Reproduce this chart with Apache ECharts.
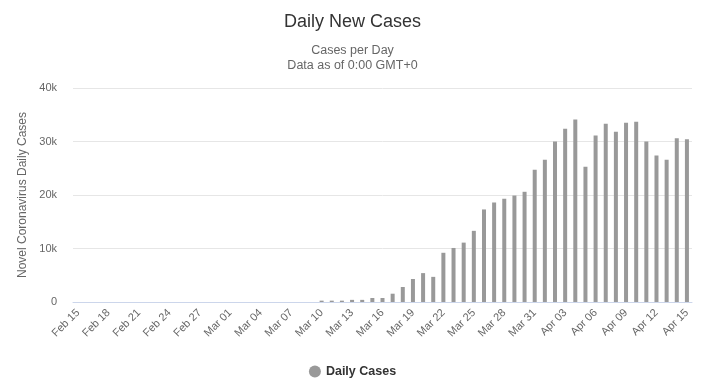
<!DOCTYPE html>
<html>
<head>
<meta charset="utf-8">
<script src="https://cdn.jsdelivr.net/npm/echarts@6/dist/echarts.min.js"></script>
<style>
html,body{margin:0;padding:0;background:#fff;}
#chart{width:705px;height:389px;}
</style>
</head>
<body>
<div id="chart"></div>
<script>
const categories = [
  "Feb 15","Feb 16","Feb 17","Feb 18","Feb 19","Feb 20","Feb 21","Feb 22","Feb 23","Feb 24","Feb 25","Feb 26","Feb 27","Feb 28","Feb 29",
  "Mar 01","Mar 02","Mar 03","Mar 04","Mar 05","Mar 06","Mar 07","Mar 08","Mar 09","Mar 10","Mar 11","Mar 12","Mar 13","Mar 14","Mar 15",
  "Mar 16","Mar 17","Mar 18","Mar 19","Mar 20","Mar 21","Mar 22","Mar 23","Mar 24","Mar 25","Mar 26","Mar 27","Mar 28","Mar 29","Mar 30","Mar 31",
  "Apr 01","Apr 02","Apr 03","Apr 04","Apr 05","Apr 06","Apr 07","Apr 08","Apr 09","Apr 10","Apr 11","Apr 12","Apr 13","Apr 14","Apr 15"
];
const dailyCases = [
  0,0,0,0,0,0,0,0,0,0,0,0,0,0,0,
  0,0,0,0,0,0,0,0,0,250,250,250,400,400,750,
  750,1550,2800,4300,5400,4700,9200,10100,11100,13300,17300,18600,19300,19900,20600,24700,
  26600,30000,32400,34100,25300,31100,33300,31800,33500,33700,30000,27400,26600,30600,30400
];
const yTicks = { min: 0, max: 40000, interval: 10000 };
const titleText = "Daily New Cases";
const subtitleText = "Cases per Day\nData as of 0:00 GMT+0";
const yAxisName = "Novel Coronavirus Daily Cases";
const seriesName = "Daily Cases";

const chart = echarts.init(document.getElementById('chart'), null, {renderer: 'canvas'});
const FONT = '"Liberation Sans", Arial, sans-serif';
chart.setOption({
  animation: false,
  backgroundColor: '#ffffff',
  title: [{
    text: titleText,
    left: 'center',
    top: 8,
    textStyle: {fontFamily: FONT, fontSize: 18, fontWeight: 'normal', color: '#333333'}
  }, {
    text: subtitleText,
    left: 'center',
    top: 38,
    textStyle: {fontFamily: FONT, fontSize: 12.5, fontWeight: 'normal', color: '#666666', lineHeight: 15}
  }],
  legend: {
    data: [{name: seriesName, icon: 'circle'}],
    left: 'center',
    bottom: 6,
    itemWidth: 12,
    itemHeight: 12,
    itemGap: 8,
    textStyle: {fontFamily: FONT, fontSize: 12.5, fontWeight: 'bold', color: '#333333'}
  },
  grid: {left: 73, right: 13, top: 88, bottom: 87, containLabel: false},
  xAxis: {
    type: 'category',
    data: categories,
    boundaryGap: true,
    axisLine: {lineStyle: {color: '#ccd6eb'}},
    axisTick: {show: false},
    axisLabel: {interval: 2, rotate: 45, margin: 9, fontFamily: FONT, fontSize: 11, color: '#666666'}
  },
  yAxis: {
    type: 'value',
    min: yTicks.min,
    max: yTicks.max,
    interval: yTicks.interval,
    name: yAxisName,
    nameLocation: 'middle',
    nameGap: 44,
    nameTextStyle: {fontFamily: FONT, fontSize: 12, color: '#666666'},
    axisLine: {show: false},
    axisTick: {show: false},
    splitLine: {lineStyle: {color: '#e6e6e6'}},
    axisLabel: {
      margin: 16,
      fontFamily: FONT, fontSize: 11, color: '#666666',
      formatter: v => v === 0 ? '0' : (v / 1000) + 'k'
    }
  },
  series: [{
    name: seriesName,
    type: 'bar',
    data: dailyCases,
    barWidth: 4,
    itemStyle: {color: '#999999'}
  }]
});
</script>
</body>
</html>
